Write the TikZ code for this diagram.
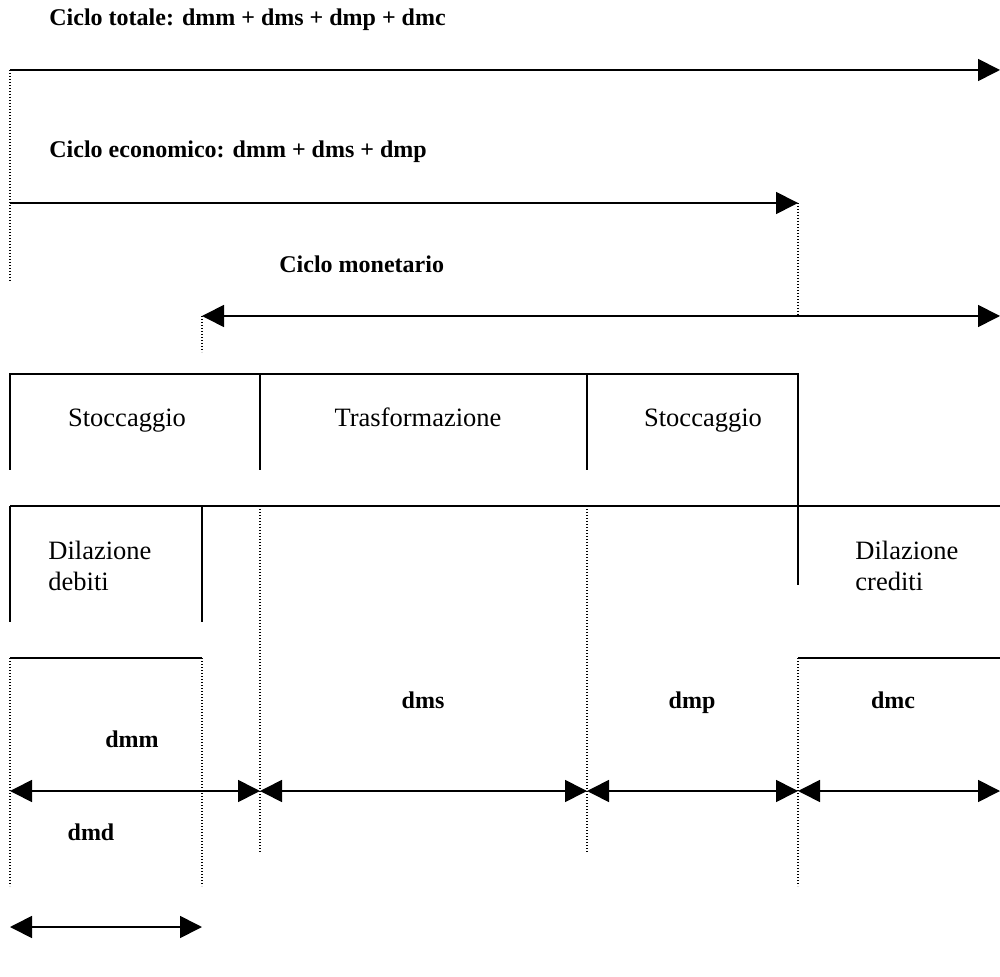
\documentclass[tikz,border=0pt]{standalone}
\usepackage{fontspec}
\setmainfont{Liberation Serif}
\usetikzlibrary{arrows.meta}
\tikzset{
  arr/.style={line width=0.85pt, -{Triangle[length=11pt,width=11pt]}},
  darr/.style={line width=0.85pt, {Triangle[length=11pt,width=11pt]}-{Triangle[length=11pt,width=11pt]}},
  boxline/.style={line width=0.65pt},
  dotline/.style={line width=0.6pt, dash pattern=on 0.6pt off 0.9pt},
  bold/.style={inner sep=0pt, font=\fontsize{12}{14}\selectfont\bfseries},
  plain/.style={inner sep=0pt, font=\fontsize{13.25}{15.5}\selectfont}
}
\begin{document}
\begin{tikzpicture}[x=0.5pt,y=-0.5pt]
\useasboundingbox (0,0) rectangle (1000,977);
% coordinates
\coordinate (t1) at (10,70);   \coordinate (t2) at (1000,70);
\coordinate (e1) at (10,203);  \coordinate (e2) at (798,203);
\coordinate (m1) at (202,316); \coordinate (m2) at (1000,316);
\coordinate (tdot) at (10,282); \coordinate (m2dot) at (798,316); \coordinate (m1dot) at (202,352);
% row 1
\coordinate (r1a) at (10,470); \coordinate (r1b) at (10,374); \coordinate (r1c) at (798,374); \coordinate (r1d) at (798,585);
\coordinate (r1e) at (260,374); \coordinate (r1f) at (260,470);
\coordinate (r1g) at (587,374); \coordinate (r1h) at (587,470);
% row 2
\coordinate (r2a) at (10,506); \coordinate (r2b) at (1000,506);
\coordinate (r2c) at (10,622); \coordinate (r2d) at (202,506); \coordinate (r2e) at (202,622);
\coordinate (r2f) at (260,506); \coordinate (r2g) at (260,852);
\coordinate (r2h) at (587,506); \coordinate (r2i) at (587,852);
% row 3
\coordinate (r3a) at (10,658); \coordinate (r3b) at (202,658);
\coordinate (r3c) at (798,658); \coordinate (r3d) at (1000,658);
\coordinate (r3e) at (10,886); \coordinate (r3f) at (202,886); \coordinate (r3g) at (798,886);
% arrow row
\coordinate (a0) at (10,791); \coordinate (a1) at (260,791); \coordinate (a2) at (587,791);
\coordinate (a3) at (798,791); \coordinate (a4) at (1000,791);
\coordinate (b0) at (10,927); \coordinate (b1) at (202,927);

% texts
\node[bold, anchor=base west] (lt) at (49,26) {Ciclo totale: dmm + dms + dmp + dmc};
\node[bold, anchor=base west] (le) at (49,158) {Ciclo economico: dmm + dms + dmp};
\node[bold, anchor=base west] (lm) at (279,273) {Ciclo monetario};
\node[plain, anchor=base] (s1) at (127,427) {Stoccaggio};
\node[plain, anchor=base] (tr) at (418,427) {Trasformazione};
\node[plain, anchor=base] (s2) at (703,427) {Stoccaggio};
\node[plain, anchor=base west, align=left] (dd) at (48,590) {Dilazione\\debiti};
\node[plain, anchor=base west, align=left] (dc) at (855,590) {Dilazione\\crediti};
\node[bold, anchor=base] (dms) at (423,708) {dms};
\node[bold, anchor=base] (dmp) at (692,708) {dmp};
\node[bold, anchor=base] (dmc) at (893,708) {dmc};
\node[bold, anchor=base] (dmm) at (132,747) {dmm};
\node[bold, anchor=base] (dmd) at (91,840) {dmd};

% dotted guides
\draw[dotline] (t1) -- (tdot);
\draw[dotline] (e2) -- (m2dot);
\draw[dotline] (m1) -- (m1dot);
\draw[dotline] (r2f) -- (r2g);
\draw[dotline] (r2h) -- (r2i);
\draw[dotline] (r3a) -- (r3e);
\draw[dotline] (r3b) -- (r3f);
\draw[dotline] (r3c) -- (r3g);

% boxes
\draw[boxline] (r1a) -- (r1b) -- (r1c) -- (r1d);
\draw[boxline] (r1e) -- (r1f);
\draw[boxline] (r1g) -- (r1h);
\draw[boxline] (r2a) -- (r2b);
\draw[boxline] (r2a) -- (r2c);
\draw[boxline] (r2d) -- (r2e);
\draw[boxline] (r3a) -- (r3b);
\draw[boxline] (r3c) -- (r3d);

% arrows
\draw[arr] (t1) -- (t2);
\draw[arr] (e1) -- (e2);
\draw[darr] (m1) -- (m2);
\draw[darr] (a0) -- (a1);
\draw[darr] (a1) -- (a2);
\draw[darr] (a2) -- (a3);
\draw[darr] (a3) -- (a4);
\draw[darr] (b0) -- (b1);
\end{tikzpicture}
\end{document}
